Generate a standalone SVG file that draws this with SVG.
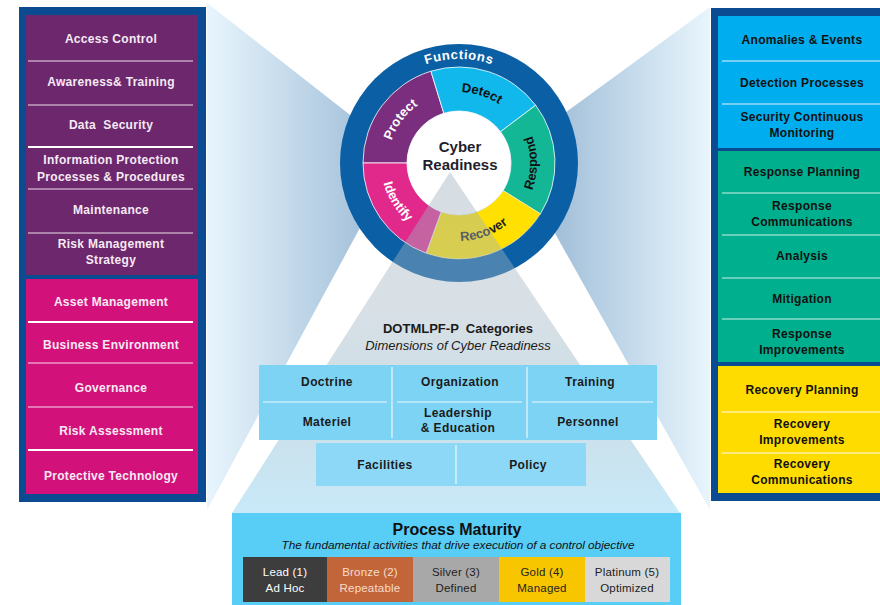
<svg xmlns="http://www.w3.org/2000/svg" width="880" height="605" viewBox="0 0 880 605">
<defs>
<style>
.t{font-family:"Liberation Sans",Arial,sans-serif;text-anchor:middle}
.lp{font-size:12px;font-weight:bold;fill:#F6EAF4;letter-spacing:0.3px}
.rp{font-size:12px;font-weight:bold;fill:#111;letter-spacing:0.3px}
.cat{font-size:12px;font-weight:bold;fill:#1b1b1b;letter-spacing:0.4px}
.seg{font-family:"Liberation Sans",Arial,sans-serif;font-size:13px;font-weight:bold}
.mat{font-size:11.5px;letter-spacing:0.2px}
.divw{stroke:#fff;stroke-width:1.2;fill:none;opacity:0.85}
.divw2{stroke:#fff;stroke-width:2.2;fill:none}
</style>
<linearGradient id="gl" gradientUnits="userSpaceOnUse" x1="207" y1="0" x2="365" y2="0">
<stop offset="0" stop-color="#E8F5FD"/><stop offset="1" stop-color="#A4C1DA"/>
</linearGradient>
<linearGradient id="gr" gradientUnits="userSpaceOnUse" x1="710" y1="0" x2="560" y2="0">
<stop offset="0" stop-color="#E8F5FD"/><stop offset="1" stop-color="#A4C1DA"/>
</linearGradient>
<linearGradient id="gt" gradientUnits="userSpaceOnUse" x1="0" y1="172" x2="0" y2="513">
<stop offset="0" stop-color="#9EAFBB" stop-opacity="0.42"/>
<stop offset="0.4" stop-color="#A2B6C3" stop-opacity="0.42"/>
<stop offset="1" stop-color="#BFE6F8" stop-opacity="0.85"/>
</linearGradient>
<path id="pProtect" d="M389.08,175.33 A71,71 0 0 1 450.35,92.53"/>
<path id="pDetect" d="M425.12,100.61 A71,71 0 0 1 523.08,132.43"/>
<path id="pRespond" d="M514.15,218.15 A78,78 0 0 0 514.15,107.85"/>
<path id="pRecover" d="M426.04,233.69 A78,78 0 0 0 529.69,195.96"/>
<path id="pIdentify" d="M383.0,145.45 A78,78 0 0 0 441.45,239.0"/>
<path id="pFunctions" d="M385.46,89.46 A104,104 0 0 1 532.54,89.46"/>
</defs>

<rect width="880" height="605" fill="#fff"/>

<g id="connectors">
<polygon points="207,3 400,154 207,510" fill="url(#gl)"/>
<polygon points="710,7 510,153 710,510" fill="url(#gr)"/>
</g>

<g id="wheel">
<circle cx="459" cy="163" r="119" fill="#0B5FA5"/>
<path d="M363,163 A96,96 0 0 1 430.93,71.20 L443.80,113.27 A52,52 0 0 0 407,163 Z" fill="#7A2E7D" stroke="#fff" stroke-width="0.8"/>
<path d="M430.93,71.20 A96,96 0 0 1 535.67,105.23 L500.53,131.71 A52,52 0 0 0 443.80,113.27 Z" fill="#10B8EC" stroke="#fff" stroke-width="0.8"/>
<path d="M535.67,105.23 A96,96 0 0 1 540.41,213.87 L503.10,190.55 A52,52 0 0 0 500.53,131.71 Z" fill="#13B796" stroke="#fff" stroke-width="0.8"/>
<path d="M540.41,213.87 A96,96 0 0 1 426.17,253.21 L441.22,211.86 A52,52 0 0 0 503.10,190.55 Z" fill="#FFE000" stroke="#fff" stroke-width="0.5"/>
<path d="M426.17,253.21 A96,96 0 0 1 363,163 L407,163 A52,52 0 0 0 441.22,211.86 Z" fill="#E1288B" stroke="#fff" stroke-width="0.8"/>
<circle cx="459" cy="163" r="52" fill="#fff"/>
<text class="seg" fill="#fff" letter-spacing="0.6"><textPath href="#pFunctions" startOffset="50%" text-anchor="middle">Functions</textPath></text>
<text class="seg" fill="#fff"><textPath href="#pProtect" startOffset="50%" text-anchor="middle">Protect</textPath></text>
<text class="seg" fill="#111"><textPath href="#pDetect" startOffset="50%" text-anchor="middle">Detect</textPath></text>
<text class="seg" fill="#111"><textPath href="#pRespond" startOffset="50%" text-anchor="middle">Respond</textPath></text>
<text class="seg" fill="#222"><textPath href="#pRecover" startOffset="50%" text-anchor="middle">Recover</textPath></text>
<text class="seg" fill="#fff"><textPath href="#pIdentify" startOffset="50%" text-anchor="middle">Identify</textPath></text>
</g>

<g id="pyramid">
<polygon points="450,172 232,513 680,513" fill="url(#gt)"/>
</g>

<g id="cyber-readiness">
<text class="t" x="460" y="152" font-size="15" font-weight="bold" fill="#1f1f2e">Cyber</text>
<text class="t" x="460" y="170" font-size="15" font-weight="bold" fill="#1f1f2e">Readiness</text>
</g>

<g id="dotmlpf-header">
<text class="t" x="458" y="333" font-size="13" font-weight="bold" fill="#1b1b1b" xml:space="preserve">DOTMLPF-P  Categories</text>
<text class="t" x="458" y="350" font-size="13" font-style="italic" fill="#1b1b1b">Dimensions of Cyber Readiness</text>
</g>

<g id="dotmlpf-grid">
<rect x="259" y="365" width="398" height="75" fill="#7DD3F4"/>
<rect x="316" y="443" width="270" height="43" fill="#8CD8F6"/>
<path class="divw" d="M392,367V438 M527,367V438 M263,402H387 M397,402H522 M532,402H653 M456,445V484"/>
</g>
<g id="doctrine"><text class="t cat" x="327" y="386">Doctrine</text></g>
<g id="organization"><text class="t cat" x="460" y="386">Organization</text></g>
<g id="training"><text class="t cat" x="590" y="386">Training</text></g>
<g id="materiel"><text class="t cat" x="327" y="426">Materiel</text></g>
<g id="leadership"><text class="t cat" x="458" y="417">Leadership</text><text class="t cat" x="458" y="432">&amp; Education</text></g>
<g id="personnel"><text class="t cat" x="588" y="426">Personnel</text></g>
<g id="facilities"><text class="t cat" x="385" y="469">Facilities</text></g>
<g id="policy"><text class="t cat" x="528" y="469">Policy</text></g>

<g id="process-maturity">
<rect x="232" y="513" width="449" height="95" fill="#58CDF6"/>
<text class="t" x="457" y="535" font-size="16" font-weight="bold" fill="#111">Process Maturity</text>
<text class="t" x="458" y="549" font-size="10.5" font-style="italic" fill="#111" textLength="353" lengthAdjust="spacingAndGlyphs">The fundamental activities that drive execution of a control objective</text>
</g>
<g id="lead"><rect x="243" y="557" width="84" height="45" fill="#3D3D3D"/>
<text class="t mat" x="285" y="576" fill="#fff">Lead (1)</text><text class="t mat" x="285" y="592" fill="#fff">Ad Hoc</text></g>
<g id="bronze"><rect x="327" y="557" width="86" height="45" fill="#C2663A"/>
<text class="t mat" x="370" y="576" fill="#F8DCCB">Bronze (2)</text><text class="t mat" x="370" y="592" fill="#F8DCCB" font-size="10.5">Repeatable</text></g>
<g id="silver"><rect x="413" y="557" width="86" height="45" fill="#A8A8A8"/>
<text class="t mat" x="456" y="576" fill="#222">Silver (3)</text><text class="t mat" x="456" y="592" fill="#222">Defined</text></g>
<g id="gold"><rect x="499" y="557" width="86" height="45" fill="#F7C600"/>
<text class="t mat" x="542" y="576" fill="#222">Gold (4)</text><text class="t mat" x="542" y="592" fill="#222">Managed</text></g>
<g id="platinum"><rect x="585" y="557" width="85" height="45" fill="#D8D8D8"/>
<text class="t mat" x="627" y="576" fill="#222">Platinum (5)</text><text class="t mat" x="627" y="592" fill="#222">Optimized</text></g>

<g id="left-panel">
<rect x="19" y="7" width="187" height="495" fill="#0A4B92"/>
<rect x="26" y="15" width="172" height="260" fill="#6C276D"/>
<rect x="26" y="279" width="172" height="215" fill="#D3117B"/>
<path class="divw" d="M28,61H193 M28,105H193 M28,189H193 M28,233H193 M28,363H193 M28,407H193"/>
<path class="divw2" d="M28,147H193 M28,322H193 M28,450H193"/>
</g>
<g id="access-control"><text class="t lp" x="111" y="43">Access Control</text></g>
<g id="awareness-training"><text class="t lp" x="111" y="86">Awareness&amp; Training</text></g>
<g id="data-security"><text class="t lp" x="111" y="129" xml:space="preserve">Data  Security</text></g>
<g id="info-protection"><text class="t lp" x="111" y="164">Information Protection</text><text class="t lp" x="111" y="181">Processes &amp; Procedures</text></g>
<g id="maintenance"><text class="t lp" x="111" y="214">Maintenance</text></g>
<g id="risk-management"><text class="t lp" x="111" y="248">Risk Management</text><text class="t lp" x="111" y="264">Strategy</text></g>
<g id="asset-management"><text class="t lp" x="111" y="306">Asset Management</text></g>
<g id="business-environment"><text class="t lp" x="111" y="349">Business Environment</text></g>
<g id="governance"><text class="t lp" x="111" y="392">Governance</text></g>
<g id="risk-assessment"><text class="t lp" x="111" y="435">Risk Assessment</text></g>
<g id="protective-technology"><text class="t lp" x="111" y="480">Protective Technology</text></g>

<g id="right-panel">
<rect x="711" y="8" width="200" height="493" fill="#0A4B92"/>
<rect x="718" y="16" width="180" height="132" fill="#00ADEE"/>
<rect x="718" y="151" width="180" height="211" fill="#00AF8E"/>
<rect x="718" y="366" width="180" height="127" fill="#FFDC00"/>
<path d="M722,61H880 M722,104H880" stroke="#9BDDF6" stroke-width="1.3"/>
<path d="M722,193H880 M722,235H880 M722,278H880 M722,319H880" stroke="#8ADACA" stroke-width="1.3"/>
<path d="M722,412H880 M722,453H880" stroke="#FFF1A6" stroke-width="1.3"/>
</g>
<g id="anomalies-events"><text class="t rp" x="802" y="44">Anomalies &amp; Events</text></g>
<g id="detection-processes"><text class="t rp" x="802" y="87">Detection Processes</text></g>
<g id="security-monitoring"><text class="t rp" x="802" y="121">Security Continuous</text><text class="t rp" x="802" y="137">Monitoring</text></g>
<g id="response-planning"><text class="t rp" x="802" y="176">Response Planning</text></g>
<g id="response-communications"><text class="t rp" x="802" y="210">Response</text><text class="t rp" x="802" y="226">Communications</text></g>
<g id="analysis"><text class="t rp" x="802" y="260">Analysis</text></g>
<g id="mitigation"><text class="t rp" x="802" y="303">Mitigation</text></g>
<g id="response-improvements"><text class="t rp" x="802" y="338">Response</text><text class="t rp" x="802" y="354">Improvements</text></g>
<g id="recovery-planning"><text class="t rp" x="802" y="394" fill="#2a2000">Recovery Planning</text></g>
<g id="recovery-improvements"><text class="t rp" x="802" y="428">Recovery</text><text class="t rp" x="802" y="444">Improvements</text></g>
<g id="recovery-communications"><text class="t rp" x="802" y="468">Recovery</text><text class="t rp" x="802" y="484">Communications</text></g>
</svg>
